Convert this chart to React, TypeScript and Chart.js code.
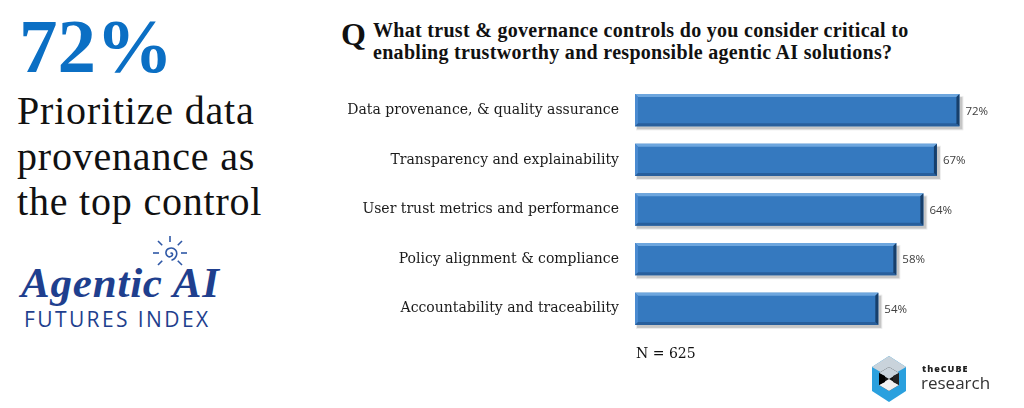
import React, { useEffect, useRef } from "react";
import { Chart, registerables } from "chart.js";

Chart.register(...registerables);

const categories = [
  "Data provenance, & quality assurance",
  "Transparency and explainability",
  "User trust metrics and performance",
  "Policy alignment & compliance",
  "Accountability and traceability",
];
const values = [72, 67, 64, 58, 54];
const valueLabels = ["72%", "67%", "64%", "58%", "54%"];

const questionLines = [
  "What trust & governance controls do you consider critical to",
  "enabling trustworthy and responsible agentic AI solutions?",
];
const headlineValue = "72%";
const headlineLines = ["Prioritize data", "provenance as", "the top control"];
const sampleNote = "N = 625";

const bevelPlugin = {
  id: "bevelBars",
  afterDatasetsDraw(chart: any) {
    const ctx = chart.ctx;
    const meta = chart.getDatasetMeta(0);
    meta.data.forEach((bar: any, i: number) => {
      const { x, y, base, height } = bar.getProps(["x", "y", "base", "height"], true);
      const left = Math.min(base, x);
      const right = Math.max(base, x);
      const top = y - height / 2;
      const bottom = y + height / 2;
      const b = 3;
      ctx.save();
      ctx.fillStyle = "rgba(0,0,0,0.16)";
      ctx.fillRect(left + 2, top + 3, right - left + 1, height);
      ctx.fillStyle = "rgba(0,0,0,0.08)";
      ctx.fillRect(left + 1, top + 2, right - left + 3, height + 2);
      ctx.fillStyle = "#3579bf";
      ctx.fillRect(left, top, right - left, height);
      ctx.fillStyle = "#6da6de";
      ctx.beginPath();
      ctx.moveTo(left, top);
      ctx.lineTo(right, top);
      ctx.lineTo(right - b, top + b);
      ctx.lineTo(left + b, top + b);
      ctx.closePath();
      ctx.fill();
      ctx.fillStyle = "#4a8ad0";
      ctx.beginPath();
      ctx.moveTo(left, top);
      ctx.lineTo(left + b, top + b);
      ctx.lineTo(left + b, bottom - b);
      ctx.lineTo(left, bottom);
      ctx.closePath();
      ctx.fill();
      ctx.fillStyle = "#285f9c";
      ctx.beginPath();
      ctx.moveTo(left, bottom);
      ctx.lineTo(left + b, bottom - b);
      ctx.lineTo(right - b, bottom - b);
      ctx.lineTo(right, bottom);
      ctx.closePath();
      ctx.fill();
      ctx.fillStyle = "#173f6b";
      ctx.beginPath();
      ctx.moveTo(right, top);
      ctx.lineTo(right, bottom);
      ctx.lineTo(right - b, bottom - b);
      ctx.lineTo(right - b, top + b);
      ctx.closePath();
      ctx.fill();
      ctx.fillStyle = "#404040";
      ctx.font = "11.5px 'Open Sans', sans-serif";
      ctx.textAlign = "left";
      ctx.textBaseline = "middle";
      ctx.fillText(valueLabels[i], right + 6, y + 1);
      ctx.restore();
    });
  },
};

function BarChart() {
  const ref = useRef<HTMLCanvasElement>(null);
  useEffect(() => {
    if (!ref.current) return;
    const chart = new Chart(ref.current, {
      type: "bar",
      data: {
        labels: categories,
        datasets: [
          {
            data: values,
            backgroundColor: "rgba(0,0,0,0)",
            borderWidth: 0,
            categoryPercentage: 1,
            barPercentage: 0.65,
          },
        ],
      },
      options: {
        indexAxis: "y",
        animation: false,
        responsive: false,
        maintainAspectRatio: false,
        layout: { padding: 0 },
        plugins: { legend: { display: false }, tooltip: { enabled: false } },
        scales: {
          x: { type: "linear", display: false, min: 0, max: 85 },
          y: {
            grid: { display: false, drawTicks: false },
            border: { display: false },
            ticks: {
              padding: 16,
              color: "#1a1a1a",
              font: { family: "'DejaVu Serif', serif", size: 14 },
            },
            afterFit: (scale: any) => {
              scale.width = 305;
            },
          },
        },
      },
      plugins: [bevelPlugin],
    });
    return () => chart.destroy();
  }, []);
  return (
    <canvas
      ref={ref}
      width={688}
      height={297}
      style={{ position: "absolute", left: 330, top: 61, width: 688, height: 297 }}
    />
  );
}

function Sun() {
  const rays = [-90, -45, 0, 45, 135, 180, 225];
  return (
    <svg width="44" height="44" viewBox="-22 -22 44 44" style={{ position: "absolute", left: 148, top: 231 }}>
      <path
        d="M0.5,0.5 C2,-1 3.5,1.5 1.5,3.2 C-1,5 -4.5,2.5 -4,-1 C-3.5,-5 2.5,-6.5 5.5,-3 C8,0 6.5,6 1.5,7.3"
        fill="none"
        stroke="#2f58a6"
        strokeWidth="1.6"
      />
      {rays.map((a) => {
        const r1 = 11, r2 = 17;
        const rad = (a * Math.PI) / 180;
        return (
          <line
            key={a}
            x1={Math.cos(rad) * r1}
            y1={Math.sin(rad) * r1}
            x2={Math.cos(rad) * r2}
            y2={Math.sin(rad) * r2}
            stroke="#2f58a6"
            strokeWidth="1.6"
          />
        );
      })}
    </svg>
  );
}

function CubeLogo() {
  return (
    <svg width="36" height="50" viewBox="-18 -25 36 50" style={{ position: "absolute", left: 871, top: 354 }}>
      <polygon points="0,-23 17,-12 17,12 0,23 -17,12 -17,-12" fill="#2aa0de" />
      <polygon points="-17,-12 0,-23 17,-12 0,-2" fill="#c9d3db" />
      <polygon points="-10,-6 0,-12 10,-6 10,6 0,12 -10,6" fill="#111" />
      <polygon points="-10,6 0,0 10,6 0,12" fill="#f2f2f2" />
      <polygon points="0,-12 10,-6 0,0 -10,-6" fill="#c9d3db" />
      <polygon points="-10,-6 -4,-3 -4,3 -10,6" fill="#000" />
      <polygon points="10,-6 4,-3 4,3 10,6" fill="#222" />
    </svg>
  );
}

export default function App() {
  const serif = "'Liberation Serif', 'DejaVu Serif', serif";
  return (
    <div
      style={{
        position: "fixed",
        left: 0,
        top: 0,
        width: 1024,
        height: 408,
        background: "#fff",
        overflow: "hidden",
      }}
    >
      <div
        style={{
          position: "absolute",
          left: 19,
          top: 3,
          fontFamily: serif,
          fontWeight: 700,
          fontSize: 77,
          lineHeight: "86px",
          color: "#0b6fc4",
        }}
      >
        {headlineValue}
      </div>
      <div
        style={{
          position: "absolute",
          left: 17,
          top: 88,
          fontFamily: serif,
          fontSize: 40,
          lineHeight: "45.5px",
          letterSpacing: 0.8,
          color: "#111",
          whiteSpace: "nowrap",
        }}
      >
        {headlineLines.map((l) => (
          <div key={l}>{l}</div>
        ))}
      </div>
      <Sun />
      <div
        style={{
          position: "absolute",
          left: 21,
          top: 260,
          fontFamily: serif,
          fontStyle: "italic",
          fontWeight: 700,
          fontSize: 43,
          lineHeight: "46px",
          letterSpacing: 0.8,
          color: "#1f3f8e",
          whiteSpace: "nowrap",
        }}
      >
        Agentic AI
      </div>
      <div
        style={{
          position: "absolute",
          left: 24,
          top: 306,
          fontFamily: "'Open Sans', sans-serif",
          fontSize: 21,
          lineHeight: "26px",
          letterSpacing: 2.4,
          color: "#1f3f8e",
          whiteSpace: "nowrap",
        }}
      >
        FUTURES INDEX
      </div>

      <div
        style={{
          position: "absolute",
          left: 341,
          top: 14,
          fontFamily: serif,
          fontWeight: 700,
          fontSize: 32,
          lineHeight: "40px",
          color: "#111",
        }}
      >
        Q
      </div>
      <div
        style={{
          position: "absolute",
          left: 373,
          top: 19,
          fontFamily: serif,
          fontWeight: 700,
          fontSize: 20,
          lineHeight: "22px",
          letterSpacing: 0.3,
          color: "#111",
          whiteSpace: "nowrap",
        }}
      >
        {questionLines.map((l) => (
          <div key={l}>{l}</div>
        ))}
      </div>

      <BarChart />

      <div
        style={{
          position: "absolute",
          left: 636,
          top: 345,
          fontFamily: "'DejaVu Serif', serif",
          fontSize: 14,
          color: "#111",
          whiteSpace: "nowrap",
        }}
      >
        {sampleNote}
      </div>

      <CubeLogo />
      <div
        style={{
          position: "absolute",
          left: 922,
          top: 364,
          fontFamily: "'Open Sans', sans-serif",
          fontWeight: 800,
          fontSize: 9,
          lineHeight: "10px",
          letterSpacing: 1,
          color: "#222",
        }}
      >
        theCUBE
      </div>
      <div
        style={{
          position: "absolute",
          left: 921,
          top: 372,
          fontFamily: "'Open Sans', sans-serif",
          fontSize: 17,
          lineHeight: "22px",
          color: "#333",
        }}
      >
        research
      </div>
    </div>
  );
}
